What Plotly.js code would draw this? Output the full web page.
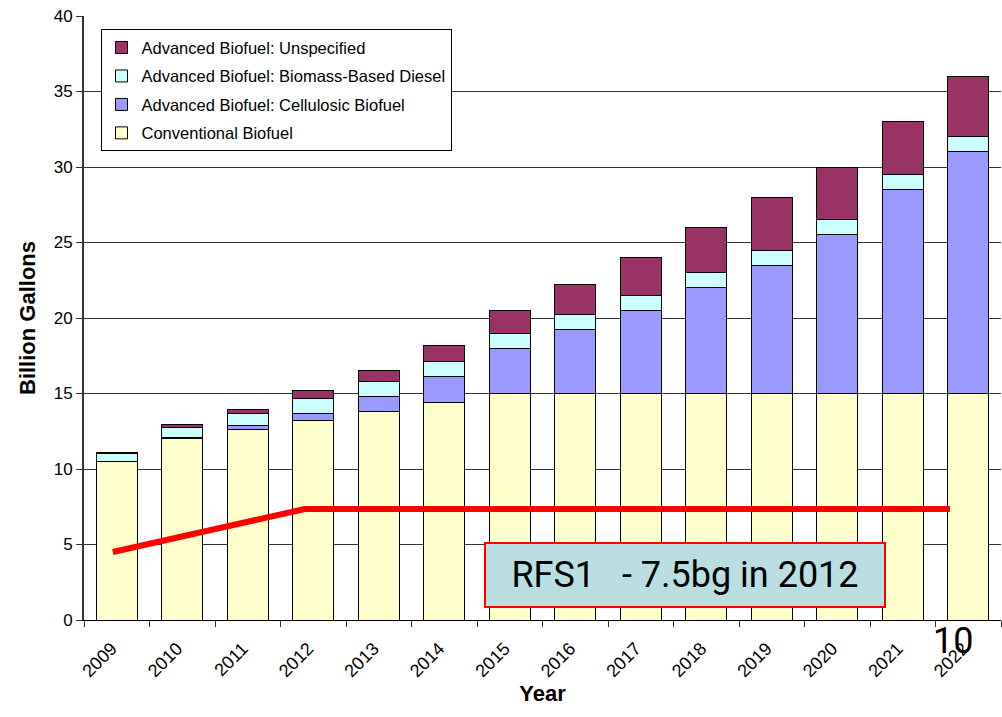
<!DOCTYPE html>
<html>
<head>
<meta charset="utf-8">
<script src="https://cdn.plot.ly/plotly-3.0.1.min.js"></script>
<style>
html,body{margin:0;padding:0;overflow:hidden;background:#fff;}
#chart{width:1002px;height:717px;}
</style>
</head>
<body>
<div id="chart"></div>
<script>
const years = ['2009','2010','2011','2012','2013','2014','2015','2016','2017','2018','2019','2020','2021','2022'];
const conventional = [10.5, 12.0, 12.6, 13.2, 13.8, 14.4, 15, 15, 15, 15, 15, 15, 15, 15];
const cellulosic   = [0, 0.1, 0.25, 0.5, 1.0, 1.75, 3.0, 4.25, 5.5, 7.0, 8.5, 10.5, 13.5, 16.0];
const biomassDiesel = [0.5, 0.65, 0.8, 1.0, 1.0, 1.0, 1.0, 1.0, 1.0, 1.0, 1.0, 1.0, 1.0, 1.0];
const unspecified  = [0.1, 0.2, 0.3, 0.5, 0.75, 1.0, 1.5, 2.0, 2.5, 3.0, 3.5, 3.5, 3.5, 4.0];
const rfs1Years = [2008.94, 2011.87, 2021.72];
const rfs1Values = [4.5, 7.35, 7.35];
const yTicks = [0, 5, 10, 15, 20, 25, 30, 35, 40];

const barLine = {color: '#000000', width: 1};
function barTrace(name, vals, color, rank) {
  return {type: 'bar', name: name, x: years, y: vals, legendrank: rank, legendgroup: 'g' + rank,
    marker: {color: color, line: barLine}, hoverinfo: 'skip'};
}
const traces = [
  barTrace('Conventional Biofuel', conventional, '#FFFFCC', 4),
  barTrace('Advanced Biofuel: Cellulosic Biofuel', cellulosic, '#9999FF', 3),
  barTrace('Advanced Biofuel: Biomass-Based Diesel', biomassDiesel, '#CCFFFF', 2),
  barTrace('Advanced Biofuel: Unspecified', unspecified, '#993366', 1),
  {type: 'scatter', mode: 'lines', x: rfs1Years, y: rfs1Values, xaxis: 'x2', yaxis: 'y',
   line: {color: '#FF0000', width: 6}, showlegend: false, hoverinfo: 'skip'}
];

const layout = {
  width: 1002, height: 717,
  margin: {l: 84, r: 1, t: 16, b: 97},
  paper_bgcolor: '#ffffff', plot_bgcolor: '#ffffff',
  barmode: 'stack', bargap: 0.37,
  font: {family: '"Liberation Sans", Arial, sans-serif', color: '#000000', size: 17},
  xaxis: {
    type: 'category', tickson: 'boundaries', ticks: 'outside', ticklen: 6, tickcolor: '#333',
    tickangle: -45, showline: true, linecolor: '#000', linewidth: 1, showgrid: false,
    tickfont: {size: 18}, range: [-0.5, 13.5], ticklabelstandoff: 10, ticklabelshift: -5,
    title: {text: '<b>Year</b>', font: {size: 22}, standoff: 4}
  },
  xaxis2: {overlaying: 'x', range: [2008.5, 2022.5], visible: false},
  yaxis: {
    range: [0, 40], tickvals: yTicks, ticks: 'outside', ticklen: 6, tickcolor: '#333',
    showline: true, linecolor: '#333', linewidth: 2, showgrid: true, gridcolor: '#333', gridwidth: 1,
    zeroline: false, tickfont: {size: 17},
    title: {text: '<b>Billion Gallons</b>', font: {size: 22}, standoff: 12}
  },
  legend: {
    x: 0.018, y: 0.978, xanchor: 'left', yanchor: 'top',
    bordercolor: '#000', borderwidth: 1, bgcolor: '#ffffff',
    font: {size: 16.5}, traceorder: 'grouped', tracegroupgap: 4
  },
  annotations: [
    {xref: 'x2', yref: 'y', x: 2017.67, y: 2.95, text: 'RFS1\u00a0\u00a0 - 7.5bg in 2012',
     showarrow: false, bgcolor: '#B9DFE3', bordercolor: '#FF0000', borderwidth: 2,
     width: 396, height: 60, font: {family: 'Roboto, sans-serif', size: 36, color: '#000'}},
    {xref: 'paper', yref: 'paper', xanchor: 'center', yanchor: 'middle', x: 0.948, y: -0.035,
     text: '10', showarrow: false, font: {family: 'Roboto, sans-serif', size: 36, color: '#000'}}
  ]
};
Plotly.newPlot('chart', traces, layout, {displayModeBar: false, staticPlot: true});
</script>
</body>
</html>
